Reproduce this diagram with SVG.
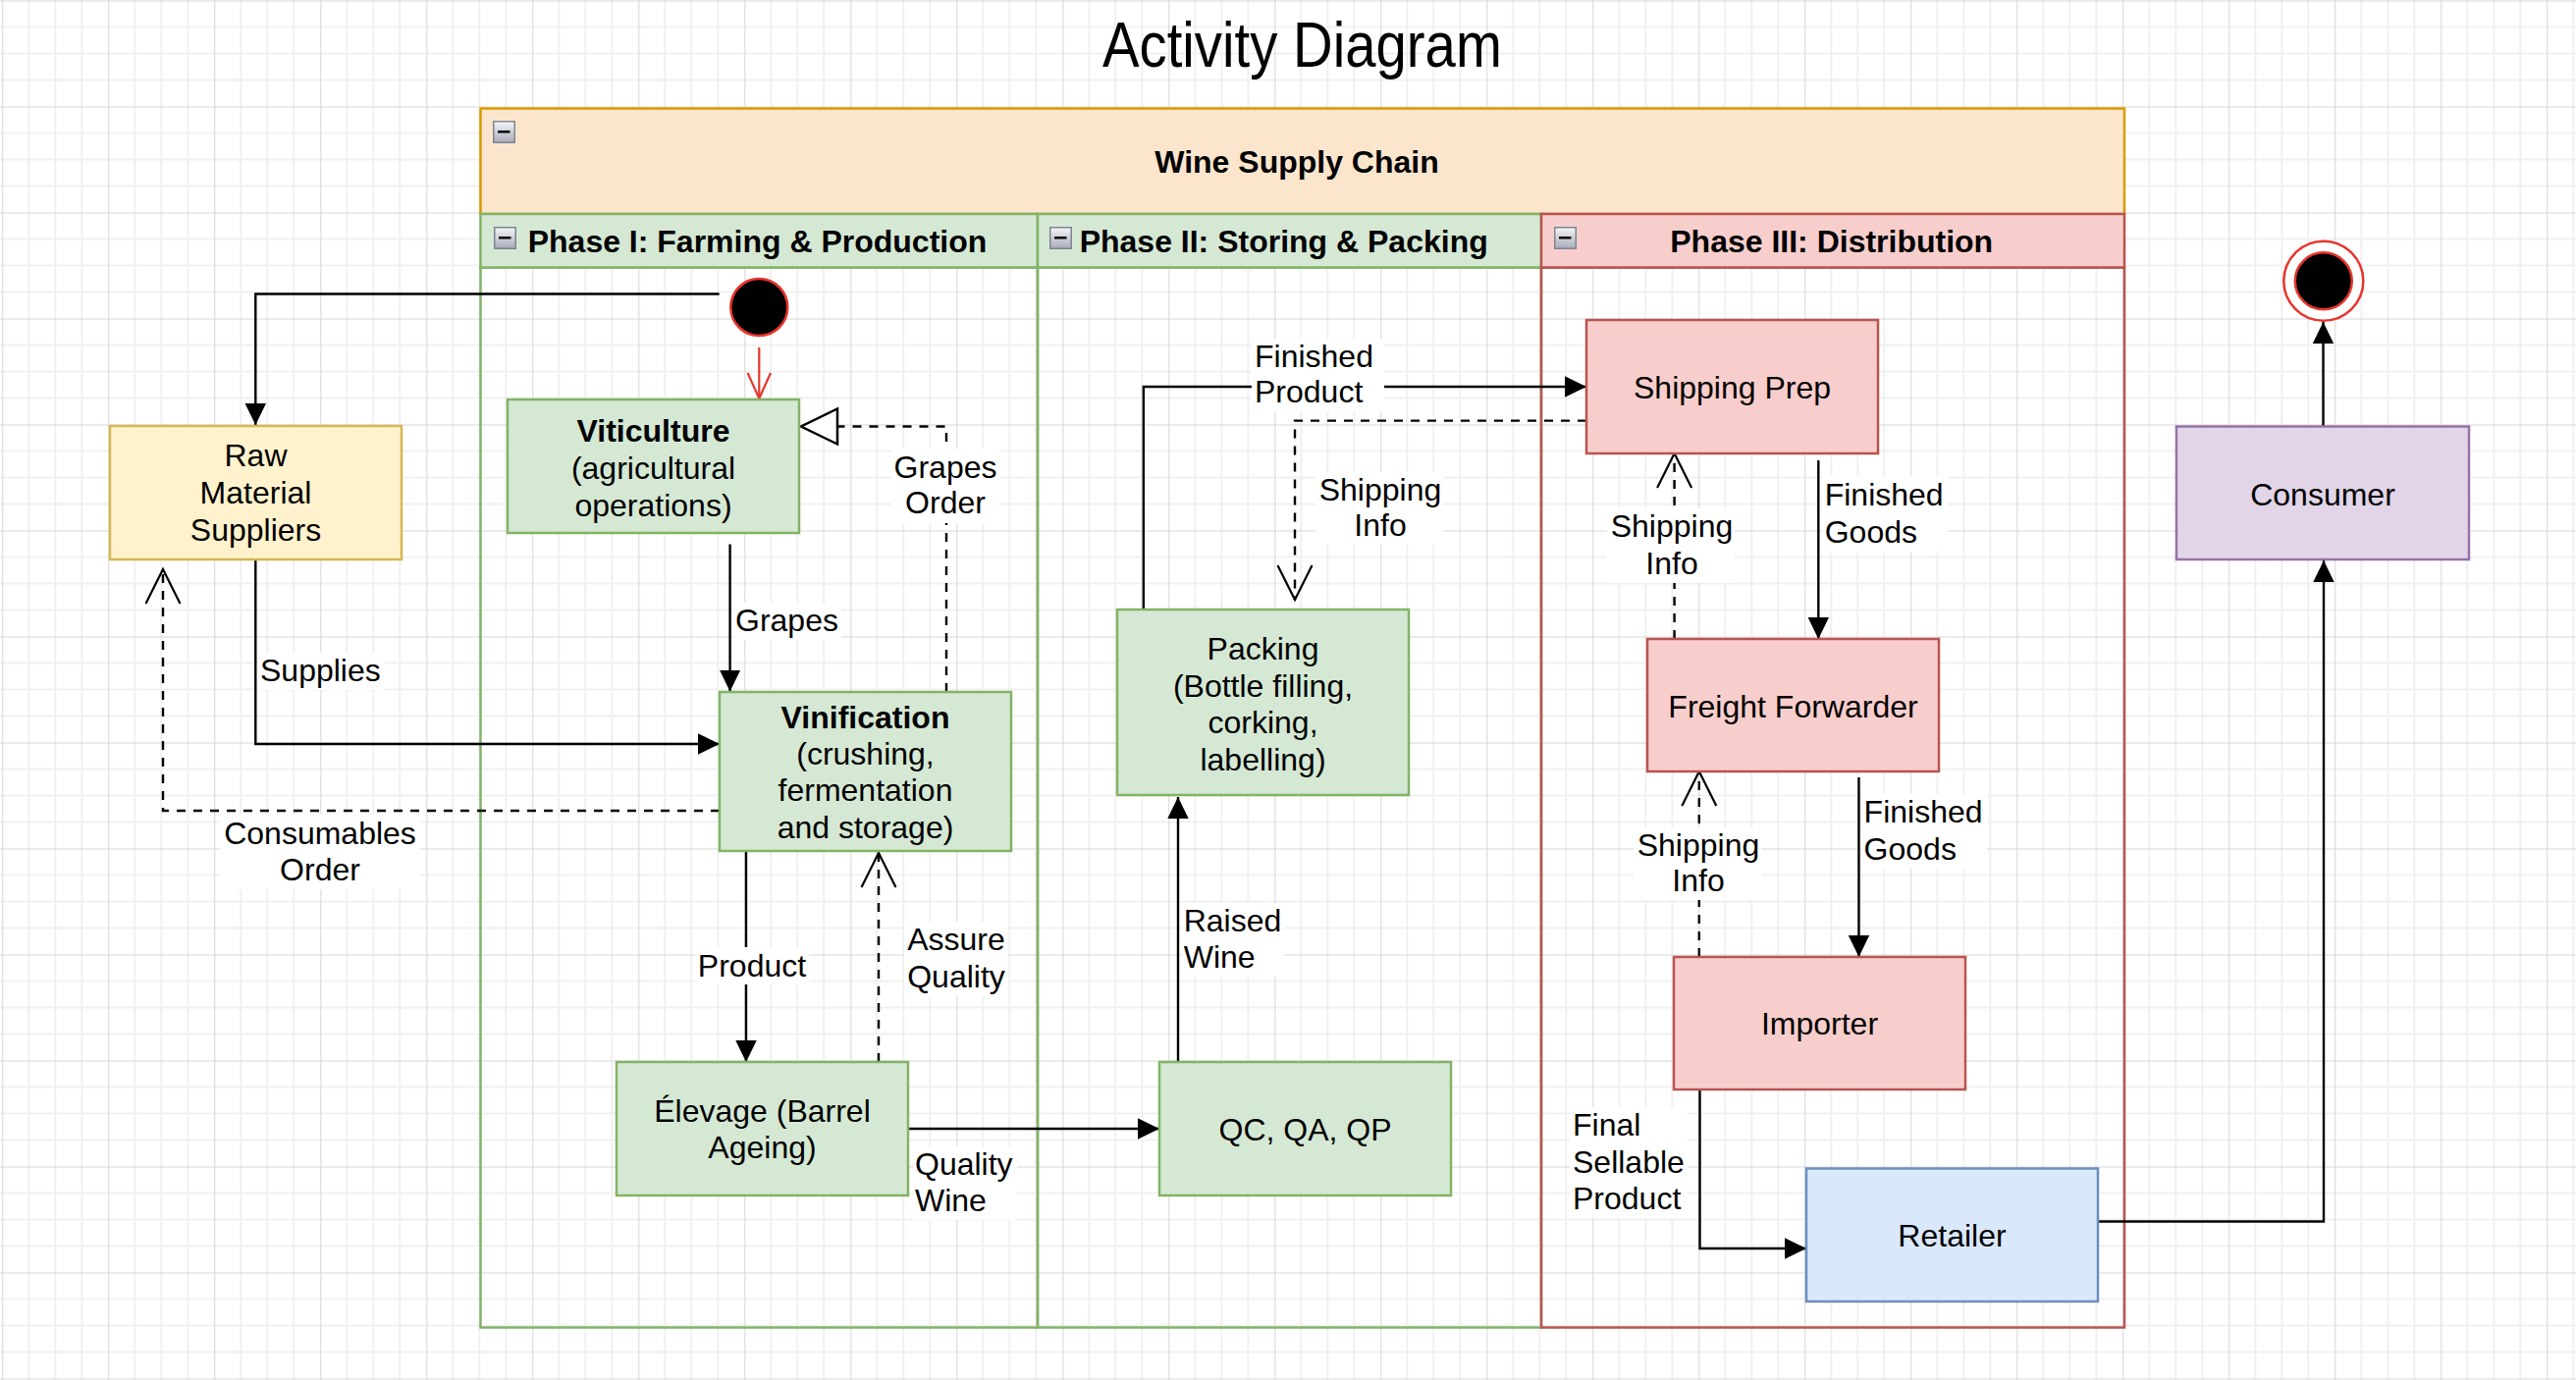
<svg xmlns="http://www.w3.org/2000/svg" xmlns:xlink="http://www.w3.org/1999/xlink" width="2624" height="1406" viewBox="0 0 2624 1406">
<style>
.t{font-family:"Liberation Sans",Arial,Helvetica,sans-serif;font-size:32px;fill:#000}
.b{font-weight:bold}
.c{text-anchor:middle}
.e{fill:none;stroke:#000;stroke-width:2.4}
.d{stroke-dasharray:9 8}
.bg{fill:#fff}
.g{fill:#d5e8d4;stroke:#82b366;stroke-width:2.5}
.r{fill:#f8cecc;stroke:#b85450;stroke-width:2.5}
</style>
<defs>
<pattern id="grid" patternUnits="userSpaceOnUse" x="2.3" y="0.5" width="108" height="108">
<path d="M27,0V108M54,0V108M81,0V108M0,27H108M0,54H108M0,81H108" stroke="#f0f0f0" stroke-width="2" fill="none"/>
<path d="M0.5,0V108M0,0.5H108" stroke="#d6d6d6" stroke-width="1" fill="none"/>
</pattern>
<linearGradient id="mg" x1="0" y1="0" x2="0" y2="1">
<stop offset="0" stop-color="#f6f6f8"/><stop offset="1" stop-color="#a8acb8"/>
</linearGradient>
<g id="minus">
<rect x="0.75" y="0.75" width="21.5" height="21.5" fill="url(#mg)" stroke="#7d8494" stroke-width="1.5"/>
<rect x="5" y="10" width="12.5" height="2.5" fill="#000"/>
</g>
<marker id="af" markerUnits="userSpaceOnUse" markerWidth="24" markerHeight="24" viewBox="0 0 24 24" refX="22" refY="11" orient="auto">
<path d="M0,0.3 L22,11 L0,21.7 z" fill="#000"/>
</marker>
<marker id="ao" markerUnits="userSpaceOnUse" markerWidth="40" markerHeight="40" viewBox="0 0 40 40" refX="36" refY="19" orient="auto">
<path d="M1,1.5 L36,19 L1,36.5" fill="none" stroke="#000" stroke-width="2.2"/>
</marker>
<marker id="ar" markerUnits="userSpaceOnUse" markerWidth="30" markerHeight="30" viewBox="0 0 30 30" refX="27" refY="13" orient="auto">
<path d="M1,1.3 L27,13 L1,24.7" fill="none" stroke="#e8352b" stroke-width="2.2"/>
</marker>
<marker id="ah" markerUnits="userSpaceOnUse" markerWidth="42" markerHeight="42" viewBox="0 0 42 42" refX="39" refY="19" orient="auto">
<path d="M2,1 L39,19 L2,37 z" fill="#fff" stroke="#000" stroke-width="2.5"/>
</marker>
</defs>
<rect x="0" y="0" width="2624" height="1406" fill="#fff"/>
<rect x="0" y="0" width="2624" height="1406" fill="url(#grid)"/>

<text class="t c" x="1326.4" y="68.3" style="font-size:64px" textLength="407" lengthAdjust="spacingAndGlyphs">Activity Diagram</text>

<g id="pool">
<rect x="489.5" y="110.5" width="1674.5" height="107.5" fill="#fbe6cd" stroke="#d79b00" stroke-width="2.5"/>
<use xlink:href="#minus" x="502" y="123"/>
<text class="t b c" x="1321" y="176">Wine Supply Chain</text>
</g>
<g id="lane1">
<rect x="489.5" y="272.5" width="567.5" height="1080" fill="none" stroke="#82b366" stroke-width="2.5"/>
<rect class="g" x="489.5" y="218" width="567.5" height="54.5"/>
<use xlink:href="#minus" x="503" y="231"/>
<text class="t b c" x="771.5" y="256.5">Phase I: Farming &amp; Production</text>
</g>
<g id="lane2">
<rect x="1057" y="272.5" width="513" height="1080" fill="none" stroke="#82b366" stroke-width="2.5"/>
<rect class="g" x="1057" y="218" width="513" height="54.5"/>
<use xlink:href="#minus" x="1069" y="231"/>
<text class="t b c" x="1307.7" y="256.5">Phase II: Storing &amp; Packing</text>
</g>
<g id="lane3">
<rect x="1570" y="272.5" width="594" height="1080" fill="none" stroke="#b85450" stroke-width="2.5"/>
<rect class="r" x="1570" y="218" width="594" height="54.5"/>
<use xlink:href="#minus" x="1583" y="231"/>
<text class="t b c" x="1865.7" y="256.5">Phase III: Distribution</text>
</g>

<g id="connectors">
<path class="e" d="M732.7,299.5H260.3V433" marker-end="url(#af)"/>
<path d="M773.3,354V406" fill="none" stroke="#e8352b" stroke-width="2.2" marker-end="url(#ar)"/>
<path class="e" d="M743.6,554.5V704.5" marker-end="url(#af)"/>
<path class="e d" d="M964,705V434.5H816" marker-end="url(#ah)"/>
<path class="e" d="M260.3,570V758H733" marker-end="url(#af)"/>
<path class="e d" d="M733,826H166V580" marker-end="url(#ao)"/>
<path class="e" d="M760,867V1082" marker-end="url(#af)"/>
<path class="e d" d="M895,1082V869" marker-end="url(#ao)"/>
<path class="e" d="M925,1150H1181" marker-end="url(#af)"/>
<path class="e" d="M1200,1082V812" marker-end="url(#af)"/>
<path class="e" d="M1164.8,621V394H1616" marker-end="url(#af)"/>
<path class="e d" d="M1616,428.6H1319V611" marker-end="url(#ao)"/>
<path class="e" d="M1852.3,469V651" marker-end="url(#af)"/>
<path class="e d" d="M1705.6,651V462" marker-end="url(#ao)"/>
<path class="e" d="M1893.5,792V975" marker-end="url(#af)"/>
<path class="e d" d="M1730.8,975V786" marker-end="url(#ao)"/>
<path class="e" d="M1731.5,1110V1272H1840" marker-end="url(#af)"/>
<path class="e" d="M2137,1244.5H2367V571" marker-end="url(#af)"/>
<path class="e" d="M2366.5,434V328" marker-end="url(#af)"/>

<rect class="bg" x="747" y="614" width="110" height="38"/>
<text class="t" x="749" y="643">Grapes</text>
<rect class="bg" x="908" y="457" width="110" height="76"/>
<text class="t c" x="963" y="486.6">Grapes</text>
<text class="t c" x="963" y="523">Order</text>
<rect class="bg" x="263" y="665" width="128" height="38"/>
<text class="t" x="265" y="694">Supplies</text>
<rect class="bg" x="224" y="830" width="204" height="76"/>
<text class="t c" x="326" y="859.5">Consumables</text>
<text class="t c" x="326" y="897">Order</text>
<rect class="bg" x="709" y="965" width="115" height="38"/>
<text class="t c" x="766" y="994.7">Product</text>
<rect class="bg" x="921" y="939" width="106" height="76"/>
<text class="t c" x="974" y="968">Assure</text>
<text class="t c" x="974" y="1006">Quality</text>
<rect class="bg" x="930" y="1168" width="106" height="75"/>
<text class="t" x="932" y="1197">Quality</text>
<text class="t" x="932" y="1233.5">Wine</text>
<rect class="bg" x="1204" y="920" width="104" height="75"/>
<text class="t" x="1205.7" y="949">Raised</text>
<text class="t" x="1205.7" y="986">Wine</text>
<rect class="bg" x="1275" y="345" width="135" height="74"/>
<text class="t" x="1278" y="374">Finished</text>
<text class="t" x="1278" y="410">Product</text>
<rect class="bg" x="1340" y="481" width="130" height="74"/>
<text class="t c" x="1406" y="510">Shipping</text>
<text class="t c" x="1406" y="546">Info</text>
<rect class="bg" x="1856" y="485" width="128" height="77"/>
<text class="t" x="1858.7" y="514.7">Finished</text>
<text class="t" x="1858.7" y="552.7">Goods</text>
<rect class="bg" x="1637" y="518" width="130" height="76"/>
<text class="t c" x="1703" y="547">Shipping</text>
<text class="t c" x="1703" y="585">Info</text>
<rect class="bg" x="1896" y="809" width="128" height="76"/>
<text class="t" x="1898.6" y="838">Finished</text>
<text class="t" x="1898.6" y="875.6">Goods</text>
<rect class="bg" x="1664" y="843" width="130" height="74"/>
<text class="t c" x="1730" y="872">Shipping</text>
<text class="t c" x="1730" y="908">Info</text>
<rect class="bg" x="1599" y="1128" width="120" height="113"/>
<text class="t" x="1602" y="1157">Final</text>
<text class="t" x="1602" y="1195">Sellable</text>
<text class="t" x="1602" y="1232">Product</text>
</g>

<g id="start">
<circle cx="773.3" cy="313" r="29" fill="#000" stroke="#e8352b" stroke-width="2.5"/>
</g>
<g id="raw">
<rect x="112" y="434" width="297" height="136" fill="#fff2cc" stroke="#d6b656" stroke-width="2.5"/>
<text class="t c" x="260.5" y="475.4">Raw</text>
<text class="t c" x="260.5" y="513.4">Material</text>
<text class="t c" x="260.5" y="551">Suppliers</text>
</g>
<g id="viticulture">
<rect class="g" x="517" y="407" width="297" height="136"/>
<text class="t b c" x="665.5" y="450">Viticulture</text>
<text class="t c" x="665.5" y="488">(agricultural</text>
<text class="t c" x="665.5" y="525.5">operations)</text>
</g>
<g id="vinification">
<rect class="g" x="733" y="705" width="297" height="162"/>
<text class="t b c" x="881.5" y="741.6">Vinification</text>
<text class="t c" x="881.5" y="779">(crushing,</text>
<text class="t c" x="881.5" y="816">fermentation</text>
<text class="t c" x="881.5" y="853.5">and storage)</text>
</g>
<g id="elevage">
<rect class="g" x="628" y="1082" width="297" height="136"/>
<text class="t c" x="776.5" y="1142.8">Élevage (Barrel</text>
<text class="t c" x="776.5" y="1180.4">Ageing)</text>
</g>
<g id="qc">
<rect class="g" x="1181" y="1082" width="297" height="136"/>
<text class="t c" x="1329.5" y="1162">QC, QA, QP</text>
</g>
<g id="packing">
<rect class="g" x="1138" y="621" width="297" height="189"/>
<text class="t c" x="1286.5" y="672">Packing</text>
<text class="t c" x="1286.5" y="709.5">(Bottle filling,</text>
<text class="t c" x="1286.5" y="747">corking,</text>
<text class="t c" x="1286.5" y="785">labelling)</text>
</g>
<g id="shippingprep">
<rect class="r" x="1616" y="326" width="297" height="136"/>
<text class="t c" x="1764.5" y="405.5">Shipping Prep</text>
</g>
<g id="freight">
<rect class="r" x="1678" y="651" width="297" height="135"/>
<text class="t c" x="1826.5" y="731">Freight Forwarder</text>
</g>
<g id="importer">
<rect class="r" x="1705" y="975" width="297" height="135"/>
<text class="t c" x="1853.5" y="1054">Importer</text>
</g>
<g id="retailer">
<rect x="1840" y="1190.5" width="297" height="135.5" fill="#dae8fc" stroke="#6c8ebf" stroke-width="2.5"/>
<text class="t c" x="1988.5" y="1269.6">Retailer</text>
</g>
<g id="consumer">
<rect x="2217" y="434.5" width="298" height="135.5" fill="#e1d5e7" stroke="#9673a6" stroke-width="2.5"/>
<text class="t c" x="2366" y="515">Consumer</text>
</g>
<g id="end">
<circle cx="2366.8" cy="286.3" r="40.5" fill="#fff" stroke="#e8352b" stroke-width="2.5"/>
<circle cx="2366.8" cy="286.3" r="29" fill="#000" stroke="#e8352b" stroke-width="2.5"/>
</g>
</svg>
